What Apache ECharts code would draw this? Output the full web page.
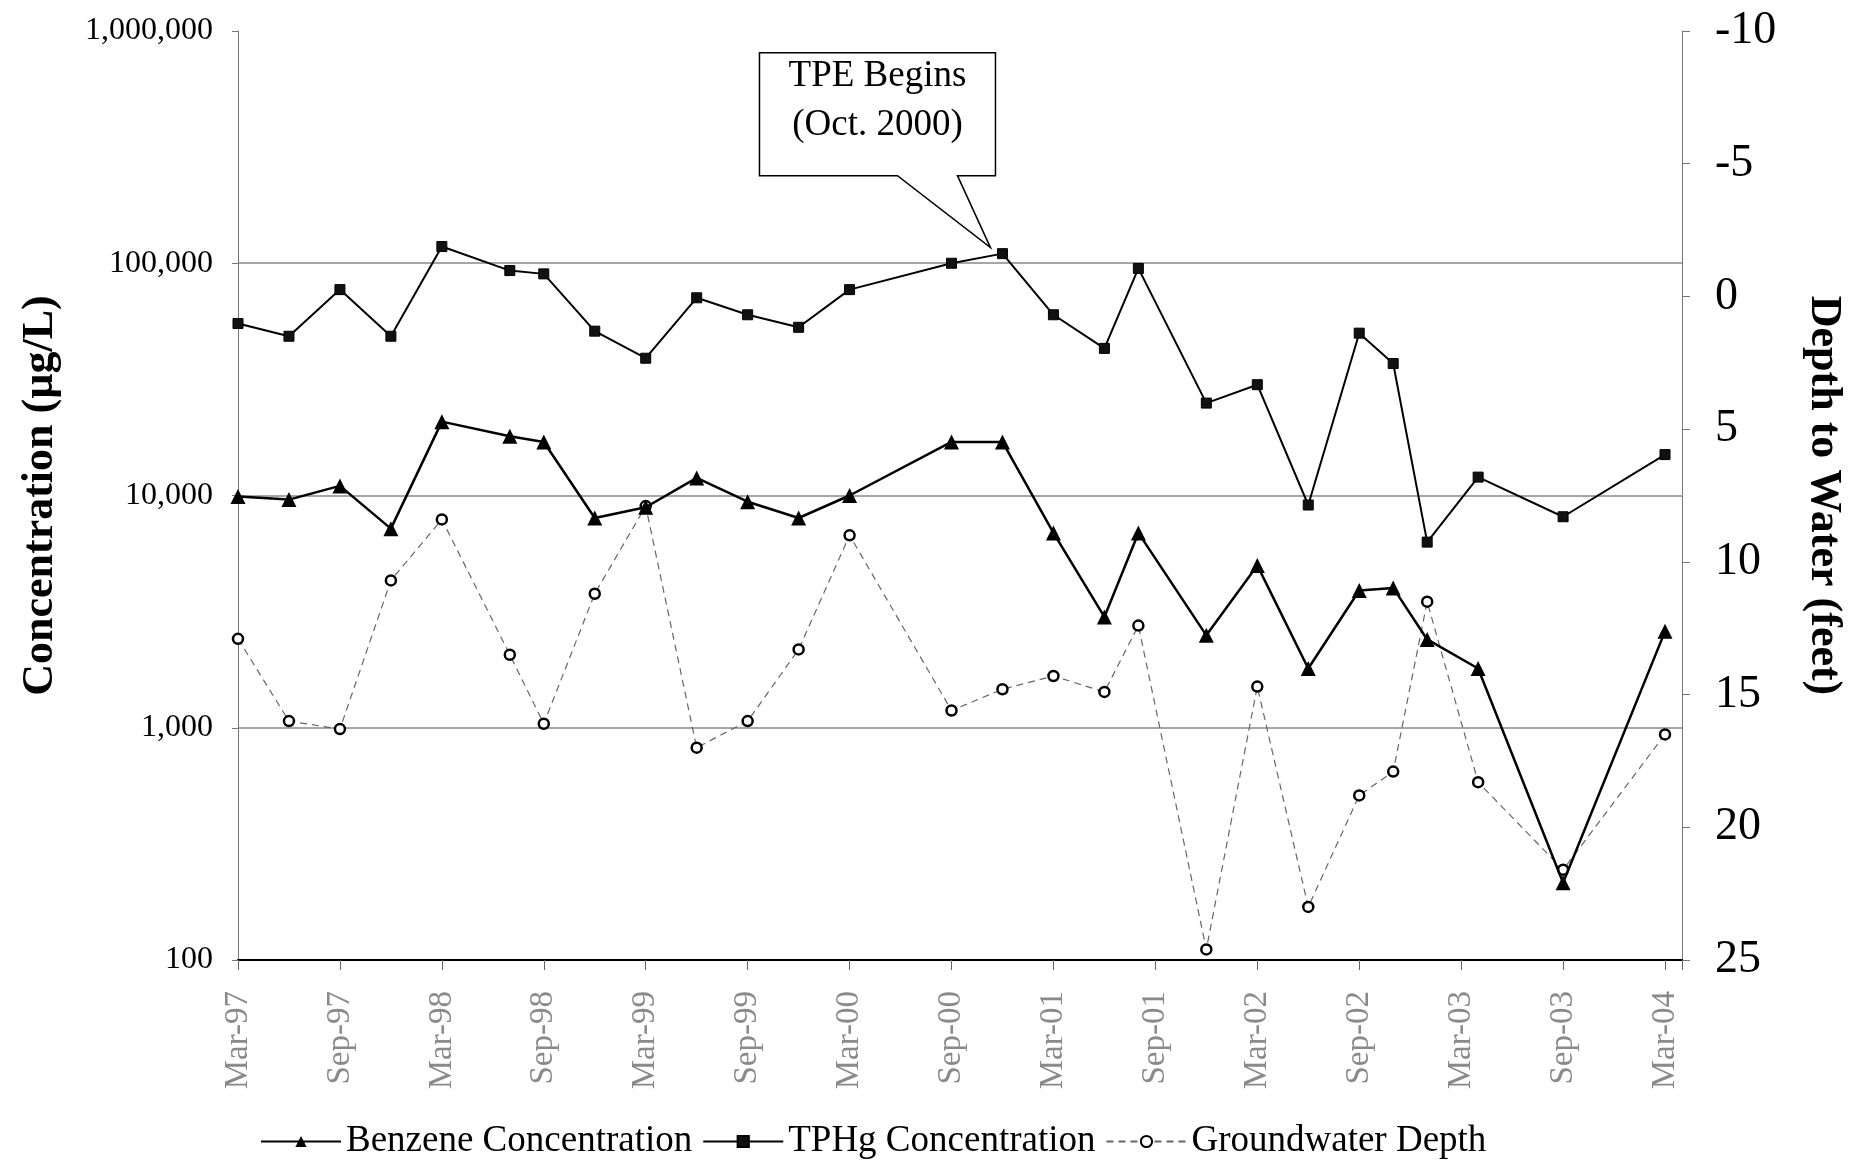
<!DOCTYPE html>
<html><head><meta charset="utf-8">
<script src="https://cdn.jsdelivr.net/npm/echarts@6/dist/echarts.min.js"></script>
<style>html,body{margin:0;padding:0;background:#fff}#c{width:1860px;height:1160px}</style>
</head><body><div id="c"></div>
<script>
// ---- data ----
const sampleDates = ['1997-03','1997-06','1997-09','1997-12','1998-03','1998-07','1998-09','1998-12',
  '1999-03','1999-06','1999-09','1999-12','2000-03','2000-09','2000-12','2001-03','2001-06','2001-08',
  '2001-12','2002-03','2002-06','2002-09','2002-11','2003-01','2003-04','2003-09','2004-03'];
const benzene = [9900, 9600, 11000, 7200, 20800, 18000, 17000, 8000, 8900, 11900, 9400, 8000, 10000,
  17000, 17000, 6900, 3000, 6900, 2500, 5000, 1800, 3900, 4000, 2400, 1800, 215, 2600];
const tphg = [55000, 48500, 77000, 48500, 118000, 93000, 90000, 51000, 39000, 71000, 60000, 53000, 77000,
  100000, 110000, 60000, 43000, 95000, 25000, 30000, 9100, 50000, 37000, 6300, 12000, 8100, 15000];
const gwDepth = [12.9, 16.0, 16.3, 10.7, 8.4, 13.5, 16.1, 11.2, 7.9, 17.0, 16.0, 13.3, 9.0, 15.6, 14.8,
  14.3, 14.9, 12.4, 24.6, 14.7, 23.0, 18.8, 17.9, 11.5, 18.3, 21.6, 16.5];
const xTickLabels = ['Mar-97','Sep-97','Mar-98','Sep-98','Mar-99','Sep-99','Mar-00','Sep-00',
  'Mar-01','Sep-01','Mar-02','Sep-02','Mar-03','Sep-03','Mar-04'];
const concTickLabels = ['100','1,000','10,000','100,000','1,000,000'];
const seriesNames = ['Benzene Concentration','TPHg Concentration','Groundwater Depth'];
const annotationLines = ['TPE Begins','(Oct. 2000)'];
const annotationDate = '2000-12';

// ---- helpers ----
function monthIndex(s){ const p = s.split('-').map(Number); return (p[0]-1997)*12 + (p[1]-3); }
const xs = sampleDates.map(monthIndex);
const pair = arr => arr.map((v,i)=>[xs[i], v]);
const FONT = '"Liberation Serif","Times New Roman",serif';

const chart = echarts.init(document.getElementById('c'), null, {renderer:'canvas'});
chart.setOption({
  animation:false,
  backgroundColor:'#fff',
  grid:{left:238, right:178, top:31, bottom:200},
  legend:{
    left:255, top:1118, itemWidth:80, itemHeight:14, itemGap:10,
    textStyle:{fontFamily:FONT, fontSize:37, color:'#000'},
    data: seriesNames
  },
  xAxis:{
    type:'value', min:0, max:85, interval:6,
    axisLine:{onZero:false, lineStyle:{color:'#000', width:2}},
    axisTick:{length:10, lineStyle:{color:'#666'}},
    splitLine:{show:false},
    axisLabel:{rotate:90, fontFamily:FONT, fontSize:33, color:'#8a8a8a', margin:31,
      formatter: v => (v % 6 === 0 && xTickLabels[v/6]) ? xTickLabels[v/6] : ''}
  },
  yAxis:[{
    type:'log', logBase:10, min:100, max:1000000,
    name:'Concentration (µg/L)', nameLocation:'middle', nameGap:175, nameRotate:90,
    nameTextStyle:{fontFamily:FONT, fontSize:44, fontWeight:'bold', color:'#000'},
    axisLine:{show:true, onZero:false, lineStyle:{color:'#777', width:1}},
    axisTick:{show:true, length:6, lineStyle:{color:'#777'}},
    axisLabel:{fontFamily:FONT, fontSize:32, color:'#000', margin:25,
      formatter: v => concTickLabels[Math.round(Math.log10(v)) - 2] || ''},
    splitLine:{show:true, showMaxLine:false, showMinLine:false, lineStyle:{color:'#888', width:1.5}}
  },{
    type:'value', inverse:true, min:-10, max:25, interval:5, position:'right',
    name:'Depth to Water (feet)', nameLocation:'middle', nameGap:119, nameRotate:-90,
    nameTextStyle:{fontFamily:FONT, fontSize:44, fontWeight:'bold', color:'#000'},
    axisLine:{show:true, onZero:false, lineStyle:{color:'#777', width:1}},
    axisTick:{show:true, length:8, lineStyle:{color:'#777'}},
    axisLabel:{fontFamily:FONT, fontSize:46, color:'#000', margin:33},
    splitLine:{show:false}
  }],
  series:[
    {name:seriesNames[0], type:'line', yAxisIndex:0, data:pair(benzene), z:4,
     symbol:'triangle', symbolSize:15, itemStyle:{color:'#000'},
     lineStyle:{color:'#000', width:2.5}},
    {name:seriesNames[1], type:'line', yAxisIndex:0, data:pair(tphg), z:3,
     symbol:'rect', symbolSize:10, itemStyle:{color:'#111', borderColor:'#000', borderWidth:1},
     lineStyle:{color:'#000', width:2}},
    {name:seriesNames[2], type:'line', yAxisIndex:1, data:pair(gwDepth), z:2,
     symbol:'circle', symbolSize:10, itemStyle:{color:'#fff', borderColor:'#000', borderWidth:2.5},
     lineStyle:{color:'#666', width:1.2, type:[7,5]}}
  ]
});

// ---- callout anchored to the TPHg point of Dec-2000 ----
const ai = sampleDates.indexOf(annotationDate);
const tip = chart.convertToPixel({xAxisIndex:0, yAxisIndex:0}, [xs[ai], tphg[ai]]);
const tx = tip[0] - 12, ty = tip[1] - 6;
const L = tx - 231, R = tx + 5, T = ty - 195, B = ty - 72;
chart.setOption({graphic:[
  {type:'polygon', z:100, shape:{points:[[L,T],[R,T],[R,B],[tx-33,B],[tx,ty],[tx-93,B],[L,B]]},
   style:{fill:'#fff', stroke:'#000', lineWidth:1.5}},
  {type:'text', z:101, style:{text:annotationLines[0], x:(L+R)/2, y:T+24, textAlign:'center',
   textVerticalAlign:'middle', font:'37px "Liberation Serif"', fill:'#000'}},
  {type:'text', z:101, style:{text:annotationLines[1], x:(L+R)/2, y:T+73, textAlign:'center',
   textVerticalAlign:'middle', font:'37px "Liberation Serif"', fill:'#000'}}
]});
</script></body></html>
